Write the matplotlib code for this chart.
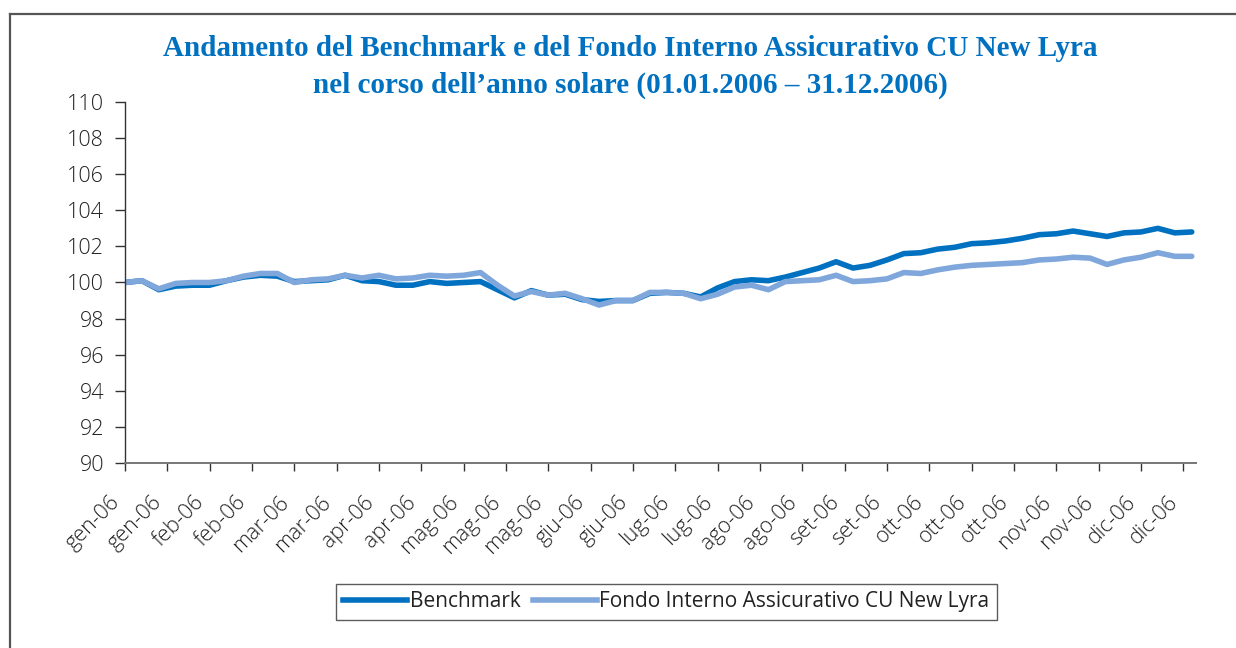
import numpy as np
import matplotlib.pyplot as plt
import matplotlib.transforms as mtransforms
from matplotlib.lines import Line2D

# month labels every 10 trading days
tick_labels = ['gen-06', 'gen-06', 'feb-06', 'feb-06', 'mar-06', 'mar-06', 'apr-06', 'apr-06',
               'mag-06', 'mag-06', 'mag-06', 'giu-06', 'giu-06', 'lug-06', 'lug-06', 'ago-06',
               'ago-06', 'set-06', 'set-06', 'ott-06', 'ott-06', 'ott-06', 'nov-06', 'nov-06',
               'dic-06', 'dic-06']

# values sampled every 4 trading days
benchmark = [100.0, 100.1, 99.6, 99.8, 99.85, 99.85, 100.1, 100.3, 100.4, 100.35,
             100.05, 100.1, 100.15, 100.4, 100.1, 100.05, 99.85, 99.85, 100.05, 99.95,
             100.0, 100.05, 99.6, 99.15, 99.55, 99.3, 99.35, 99.05, 98.95, 99.0,
             99.0, 99.4, 99.45, 99.4, 99.2, 99.7, 100.05, 100.15, 100.1, 100.3,
             100.55, 100.8, 101.15, 100.8, 100.95, 101.25, 101.6, 101.65, 101.85, 101.95,
             102.15, 102.2, 102.3, 102.45, 102.65, 102.7, 102.85, 102.7, 102.55, 102.75,
             102.8, 103.0, 102.75, 102.8]
fondo = [100.0, 100.1, 99.65, 99.95, 100.0, 100.0, 100.1, 100.35, 100.5, 100.5,
         100.0, 100.15, 100.2, 100.4, 100.25, 100.4, 100.2, 100.25, 100.4, 100.35,
         100.4, 100.55, 99.85, 99.25, 99.5, 99.3, 99.4, 99.1, 98.75, 99.0,
         99.0, 99.45, 99.45, 99.4, 99.1, 99.35, 99.75, 99.85, 99.6, 100.05,
         100.1, 100.15, 100.4, 100.05, 100.1, 100.2, 100.55, 100.5, 100.7, 100.85,
         100.95, 101.0, 101.05, 101.1, 101.25, 101.3, 101.4, 101.35, 101.0, 101.25,
         101.4, 101.65, 101.45, 101.45]

step = 4
x = np.arange(len(benchmark)) * step

dark_blue = '#0070c0'
light_blue = '#7fa7db'
text_col = '#222222'

fig = plt.figure(figsize=(12.36, 6.48), dpi=100)
ax = fig.add_axes([0.1011, 0.2855, 0.8665, 0.5571])

ax.plot(x, benchmark, color=dark_blue, lw=4.0, solid_capstyle='round', solid_joinstyle='round')
ax.plot(x, fondo, color=light_blue, lw=4.0, solid_capstyle='round', solid_joinstyle='round')

ax.set_ylim(90, 110)
ax.set_yticks(np.arange(90, 111, 2))
ax.set_xlim(0, 253)
ax.set_xticks(np.arange(len(tick_labels)) * 10)
ax.set_xticklabels(tick_labels, rotation=45, ha='right', rotation_mode='anchor')

for s in ['top', 'right']:
    ax.spines[s].set_visible(False)
ax.spines['left'].set_color('#333333')
ax.spines['bottom'].set_color('#777777')
ax.spines['left'].set_linewidth(1.0)
ax.spines['bottom'].set_linewidth(1.4)
ax.tick_params(axis='y', direction='out', length=7, width=1, colors='#333333',
               labelsize=15.5, labelcolor=text_col, pad=8)
ax.tick_params(axis='x', direction='out', length=6, width=1, colors='#333333',
               labelsize=15.5, labelcolor=text_col, pad=6)
shift = mtransforms.ScaledTranslation(-16 / 100, -12 / 100, fig.dpi_scale_trans)
for lab in ax.get_xticklabels():
    lab.set_transform(lab.get_transform() + shift)
for lab in ax.get_yticklabels() + ax.get_xticklabels():
    lab.set_fontfamily('Open Sans')
    lab.set_fontweight('light')

fig.text(0.51, 0.925, "Andamento del Benchmark e del Fondo Interno Assicurativo CU New Lyra",
         ha='center', va='center', color=dark_blue, fontsize=21, fontweight='bold',
         family='Liberation Serif')
fig.text(0.51, 0.868, "nel corso dell\u2019anno solare (01.01.2006 \u2013 31.12.2006)",
         ha='center', va='center', color=dark_blue, fontsize=21, fontweight='bold',
         family='Liberation Serif')

handles = [Line2D([], [], color=dark_blue, lw=4.0),
           Line2D([], [], color=light_blue, lw=4.0)]
leg = fig.legend(handles, ['Benchmark', 'Fondo Interno Assicurativo CU New Lyra'],
                 loc='center', bbox_to_anchor=(0.539, 0.071), ncol=2, frameon=True,
                 fancybox=False, edgecolor='#333333', handlelength=3.1, handletextpad=0.1,
                 columnspacing=0.6, borderpad=0.35, prop={'family': 'Open Sans', 'size': 15})
leg.get_frame().set_linewidth(1.0)
for t in leg.get_texts():
    t.set_color(text_col)

# outer frame (top and left edges)
fig.add_artist(Line2D([10 / 1236, 1.0], [1 - 14 / 648, 1 - 14 / 648],
                      transform=fig.transFigure, color='#555555', lw=1.6))
fig.add_artist(Line2D([10 / 1236, 10 / 1236], [0.0, 1 - 14 / 648],
                      transform=fig.transFigure, color='#555555', lw=1.6))

fig.savefig('out.png', dpi=100)
